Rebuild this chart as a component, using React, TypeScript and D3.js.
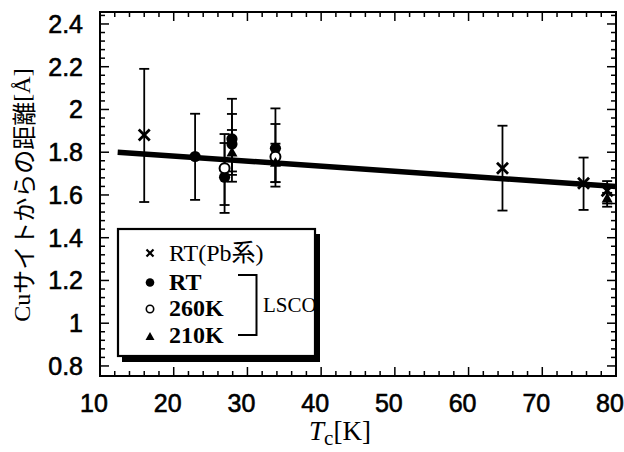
import React from "react";
import * as d3 from "d3";

// Pb-based (RT) — cross markers
const pbTc = [16.0, 64.6, 75.6, 78.8];
const pbVal = [1.88, 1.725, 1.655, 1.62];
const pbLo = [1.567, 1.527, 1.53, 1.545];
const pbHi = [2.19, 1.924, 1.775, 1.665];

// LSCO RT — filled circles
const rtTc = [22.9, 26.9, 27.9, 27.9, 33.8];
const rtVal = [1.78, 1.683, 1.862, 1.838, 1.818];
const rtLo = [1.577, 1.516, 1.662, 1.71, 1.639];
const rtHi = [1.98, 1.843, 2.05, 1.979, 2.005];

// LSCO 260K — open circles
const k260Tc = [26.9, 33.8];
const k260Val = [1.725, 1.779];
const k260Lo = [1.553, 1.66];
const k260Hi = [1.885, 1.932];

// LSCO 210K — triangles
const k210Tc = [27.9, 33.8, 78.8];
const k210Val = [1.8, 1.752, 1.585];
const k210Lo = [1.694, 1.66, 1.56];
const k210Hi = [1.904, 1.84, 1.61];

// fitted line
const fitTc = [12.4, 80];
const fitVal = [1.8, 1.64];

const xTicks = [10, 20, 30, 40, 50, 60, 70, 80];
const yTicks = [0.8, 1, 1.2, 1.4, 1.6, 1.8, 2, 2.2, 2.4];
const yTickLabels = ["0.8", "1", "1.2", "1.4", "1.6", "1.8", "2", "2.2", "2.4"];

const legendLabels = ["RT(Pb系)", "RT", "260K", "210K"];

const L = 100, R = 616, T = 12, B = 376;

export default function App() {
  const x = d3.scaleLinear().domain([10, 80]).range([L, R]);
  const y = d3.scaleLinear().domain([0.753, 2.456]).range([B, T]);

  const xMinor = d3.range(10, 80.001, 2);
  const yMinor = d3.range(0.8, 2.4501, 0.04);

  const line = d3.line<number>().x((_, i) => x(fitTc[i])).y((d) => y(d));

  const errBar = (tc: number, lo: number, hi: number, key: string) => {
    const cx = x(tc);
    return (
      <g key={key} stroke="#000" strokeWidth={1.8}>
        <line x1={cx} x2={cx} y1={y(lo)} y2={y(hi)} />
        <line x1={cx - 5} x2={cx + 5} y1={y(lo)} y2={y(lo)} />
        <line x1={cx - 5} x2={cx + 5} y1={y(hi)} y2={y(hi)} />
      </g>
    );
  };

  const cross = (cx: number, cy: number, s: number, key: string, w = 2.8) => (
    <g key={key} stroke="#000" strokeWidth={w}>
      <line x1={cx - s} x2={cx + s} y1={cy - s} y2={cy + s} />
      <line x1={cx - s} x2={cx + s} y1={cy + s} y2={cy - s} />
    </g>
  );
  const tri = (cx: number, cy: number, s: number) =>
    `M${cx},${cy - s}L${cx + s},${cy + s * 0.8}L${cx - s},${cy + s * 0.8}Z`;

  const numFont = "'Liberation Sans', Arial, sans-serif";
  const serif = "'Liberation Serif', 'Times New Roman', serif";

  return (
    <svg width={624} height={452} style={{ position: "absolute", left: 0, top: 0, background: "#fff" }}>
      <rect x={0} y={0} width={624} height={452} fill="#fff" />
      {/* frame */}
      <rect x={L} y={T} width={R - L} height={B - T} fill="none" stroke="#000" strokeWidth={2} />
      {/* x ticks */}
      {xMinor.map((v, i) => {
        const major = Math.abs((v - 10) % 10) < 1e-6;
        const len = major ? 9 : 5;
        return (
          <g key={"xt" + i} stroke="#000" strokeWidth={1.5}>
            <line x1={x(v)} x2={x(v)} y1={B} y2={B - len} />
            <line x1={x(v)} x2={x(v)} y1={T} y2={T + len} />
          </g>
        );
      })}
      {yMinor.map((v, i) => {
        const major = Math.abs(Math.round(v * 5) - v * 5) < 1e-6;
        const len = major ? 9 : 5;
        return (
          <g key={"yt" + i} stroke="#000" strokeWidth={1.5}>
            <line x1={L} x2={L + len} y1={y(v)} y2={y(v)} />
            <line x1={R} x2={R - len} y1={y(v)} y2={y(v)} />
          </g>
        );
      })}
      {/* tick labels */}
      {xTicks.map((v) => (
        <text key={"xl" + v} x={x(v) - 6} y={412} textAnchor="middle" fontFamily={numFont} fontSize={25}
          stroke="#000" strokeWidth={0.6}>
          {v}
        </text>
      ))}
      {yTicks.map((v, i) => (
        <text key={"yl" + v} x={83} y={y(v)} dy="0.36em" textAnchor="end" fontFamily={numFont} fontSize={25}
          stroke="#000" strokeWidth={0.6}>
          {yTickLabels[i]}
        </text>
      ))}
      {/* axis titles */}
      <text x={340} y={440} textAnchor="middle" fontFamily={serif} fontSize={27}>
        <tspan fontStyle="italic">T</tspan>
        <tspan fontSize={21} dy={5}>c</tspan>
        <tspan dy={-5}>[K]</tspan>
      </text>
      <text transform="translate(22,195) rotate(-90)" textAnchor="middle" dominantBaseline="central" fontSize={24}>
        <tspan fontFamily={serif}>Cu</tspan>
        <tspan fontFamily="'Noto Sans CJK JP', sans-serif">サイトからの距離</tspan>
        <tspan fontFamily={serif}>[Å]</tspan>
      </text>

      {/* fit line */}
      <path d={line(fitVal) || ""} fill="none" stroke="#000" strokeWidth={5.5} />

      {/* error bars */}
      {pbTc.map((t, i) => errBar(t, pbLo[i], pbHi[i], "pe" + i))}
      {rtTc.map((t, i) => errBar(t, rtLo[i], rtHi[i], "re" + i))}
      {k260Tc.map((t, i) => errBar(t, k260Lo[i], k260Hi[i], "ke" + i))}
      {k210Tc.map((t, i) => errBar(t, k210Lo[i], k210Hi[i], "te" + i))}

      {/* markers */}
      {pbTc.map((t, i) => cross(x(t), y(pbVal[i]), 5.5, "pm" + i))}
      {rtTc.map((t, i) => (
        <circle key={"rm" + i} cx={x(t)} cy={y(rtVal[i])} r={5.6} fill="#000" />
      ))}
      {k260Tc.map((t, i) => (
        <circle key={"km" + i} cx={x(t)} cy={y(k260Val[i])} r={5} fill="#fff" stroke="#000" strokeWidth={2} />
      ))}
      {k210Tc.map((t, i) => (
        <path key={"tm" + i} d={tri(x(t), y(k210Val[i]), 5.5)} fill="#000" />
      ))}

      {/* legend */}
      <rect x={122} y={234} width={198} height={128} fill="#000" />
      <rect x={118} y={229} width={197} height={127} fill="#fff" stroke="#000" strokeWidth={2.2} />
      {cross(150, 253, 3.5, "lg0", 2.2)}
      <circle cx={150} cy={282.5} r={4.3} fill="#000" />
      <circle cx={150} cy={309} r={3.7} fill="#fff" stroke="#000" strokeWidth={1.6} />
      <path d={tri(150, 336.5, 4.5)} fill="#000" />
      <text x={169} y={261} fontFamily={`${serif}, 'Noto Sans CJK JP'`} fontSize={24}>{legendLabels[0]}</text>
      <text x={169} y={290} fontFamily={serif} fontSize={24} fontWeight="bold">{legendLabels[1]}</text>
      <text x={169} y={316} fontFamily={serif} fontSize={24} fontWeight="bold">{legendLabels[2]}</text>
      <text x={169} y={343} fontFamily={serif} fontSize={24} fontWeight="bold">{legendLabels[3]}</text>
      <path d="M238,275H256.5V335H238" fill="none" stroke="#000" strokeWidth={2} />
      <text x={263} y={312} fontFamily={serif} fontSize={21}>LSCO</text>
    </svg>
  );
}
